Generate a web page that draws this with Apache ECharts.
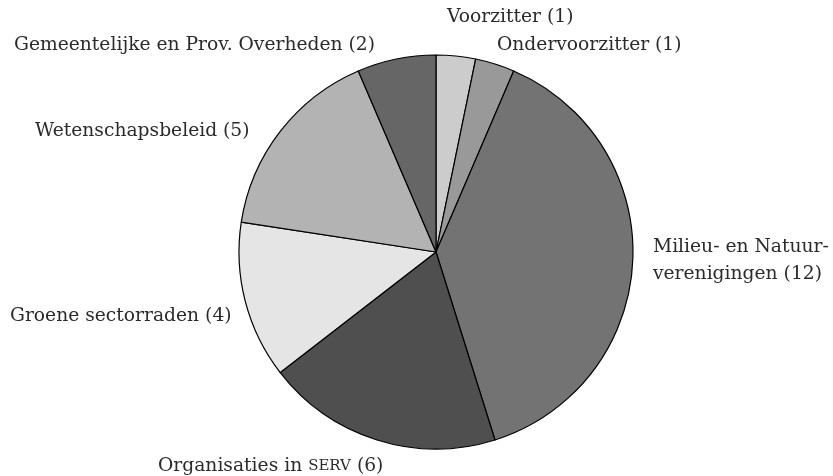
<!DOCTYPE html>
<html>
<head>
    <meta charset="utf-8">
    <title>Samenstelling</title>
    <script src="https://cdn.jsdelivr.net/npm/echarts@6/dist/echarts.min.js"></script>
</head>
<style>
  html, body { margin: 0; padding: 0; background: #fff; }
</style>
<body>
    <div id="main" style="width: 833px;height:476px;"></div>
    <script type="text/javascript">
    // data
    var names = ['Voorzitter', 'Ondervoorzitter', 'Milieu- en Natuurverenigingen', 'Organisaties in SERV',
                 'Groene sectorraden', 'Wetenschapsbeleid', 'Gemeentelijke en Prov. Overheden'];
    var labels = ['Voorzitter (1)', 'Ondervoorzitter (1)', 'Milieu- en Natuur-\nverenigingen (12)',
                  'Organisaties in {sc|SERV} (6)', 'Groene sectorraden (4)', 'Wetenschapsbeleid (5)',
                  'Gemeentelijke en Prov. Overheden (2)'];
    var values = [1, 1, 12, 6, 4, 5, 2];
    var colors = ['#cccccc', '#999999', '#737373', '#4f4f4f', '#e5e5e5', '#b3b3b3', '#666666'];

    // where each label sits (left edge, vertical middle)
    var labelPos = [[447, 17], [497, 45], [653, 261], [158, 466], [10, 316], [35, 131], [14, 45]];

    var myChart = echarts.init(document.getElementById('main'));

    var data = [];
    for (var i = 0; i < names.length; i++) {
        data.push({
            name: names[i],
            value: values[i],
            itemStyle: { color: colors[i] },
            label: { formatter: labels[i] }
        });
    }

    var option = {
        animation: false,
        series: [{
            type: 'pie',
            center: [436, 252],
            radius: 197,
            startAngle: 90,
            clockwise: true,
            itemStyle: {
                borderColor: '#000',
                borderWidth: 1.2
            },
            label: {
                show: true,
                position: 'outside',
                color: '#2a2a2a',
                fontFamily: 'DejaVu Serif',
                fontSize: 18.7,
                lineHeight: 27,
                overflow: 'none',
                rich: {
                    sc: { fontSize: 15, fontFamily: 'DejaVu Serif', color: '#2a2a2a' }
                }
            },
            labelLine: { show: false },
            labelLayout: function (params) {
                var p = labelPos[params.dataIndex];
                return { x: p[0], y: p[1], align: 'left', verticalAlign: 'middle', hideOverlap: false };
            },
            emphasis: { disabled: true },
            data: data
        }]
    };
    myChart.setOption(option);
    </script>
</body>
</html>
